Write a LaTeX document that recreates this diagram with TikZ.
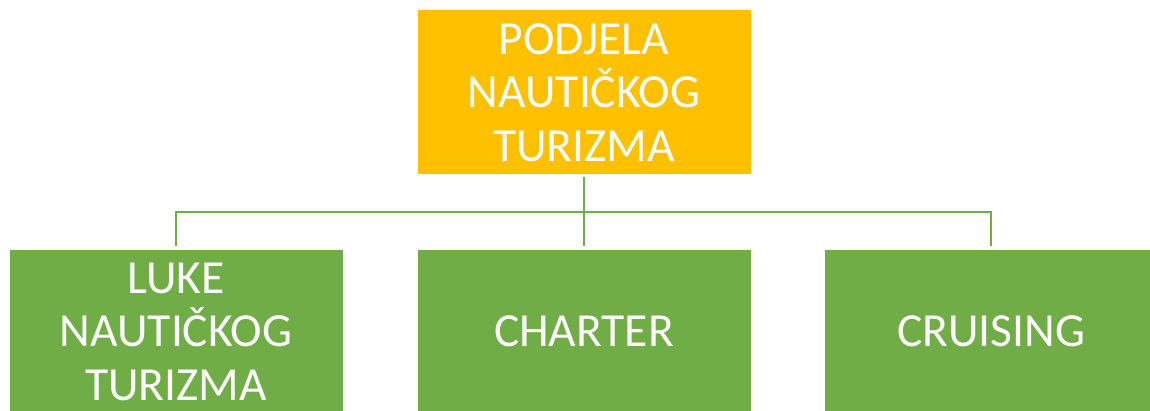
\documentclass[tikz,border=0pt]{standalone}
\usepackage{fontspec}
\setmainfont{Carlito}
\definecolor{gold}{HTML}{FFC000}
\definecolor{leaf}{HTML}{70AD47}
\begin{document}
\begin{tikzpicture}[x=1pt,y=1pt,
  box/.style={draw=white,line width=1pt,minimum width=334pt,minimum height=165pt,inner sep=0pt,
    text=white,align=center,font=\fontsize{47.5}{53.5}\selectfont},
  conn/.style={draw=leaf,line width=2.2pt}]
\useasboundingbox (0,0) rectangle (1150,410);
\clip (0,0) rectangle (1150,410);
\node[box,fill=gold] (top) at (584,317.5) {PODJELA\\NAUTIČKOG\\TURIZMA};
\node[box,fill=leaf] (l) at (176,78.5) {LUKE\\NAUTIČKOG\\TURIZMA};
\node[box,fill=leaf] (m) at (584,78.5) {CHARTER};
\node[box,fill=leaf] (r) at (991,78.5) {CRUISING};
\coordinate (bar) at (0,198);
\draw[conn,shorten <=2pt,shorten >=3pt] (top.south) -- (m.north);
\draw[conn,shorten <=3pt,shorten >=3pt] (l.north) -- (l.north |- bar) -| (r.north);
\end{tikzpicture}
\end{document}
